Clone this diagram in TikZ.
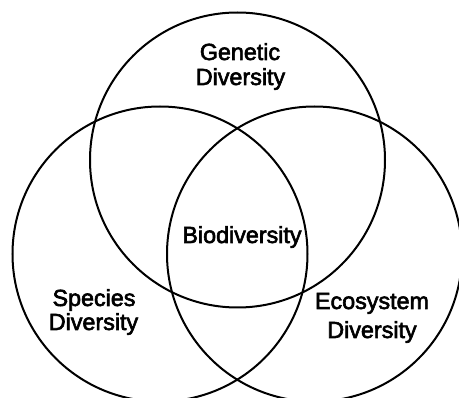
\documentclass[tikz,border=0pt]{standalone}
\usepackage{fontspec}
\setmainfont{Liberation Sans}
\newfontfamily\lblfont[FakeBold=2.6]{Liberation Sans}
\begin{document}
\begin{tikzpicture}[x=1pt,y=-1pt,
  venn/.style={circle,draw=black,line width=2pt,minimum size=295pt,inner sep=0pt},
  lbl/.style={anchor=base,inner sep=0pt,font=\lblfont\fontsize{23.3}{25}\selectfont}]
\useasboundingbox (0,0) rectangle (459,398);
\node[venn] (gen) at (237.5,160) {};
\node[venn] (spe) at (160,254) {};
\node[venn] (eco) at (314.5,254) {};
\node[lbl] (gen1) at (240,60) {Genetic};
\node[lbl] (gen2) at (240.5,85) {Diversity};
\node[lbl] (bio) at (242,243) {Biodiversity};
\node[lbl] (spe1) at (94,306) {Species};
\node[lbl] (spe2) at (93.5,330) {Diversity};
\node[lbl] (eco1) at (372,309) {Ecosystem};
\node[lbl] (eco2) at (372,338) {Diversity};
\end{tikzpicture}
\end{document}
